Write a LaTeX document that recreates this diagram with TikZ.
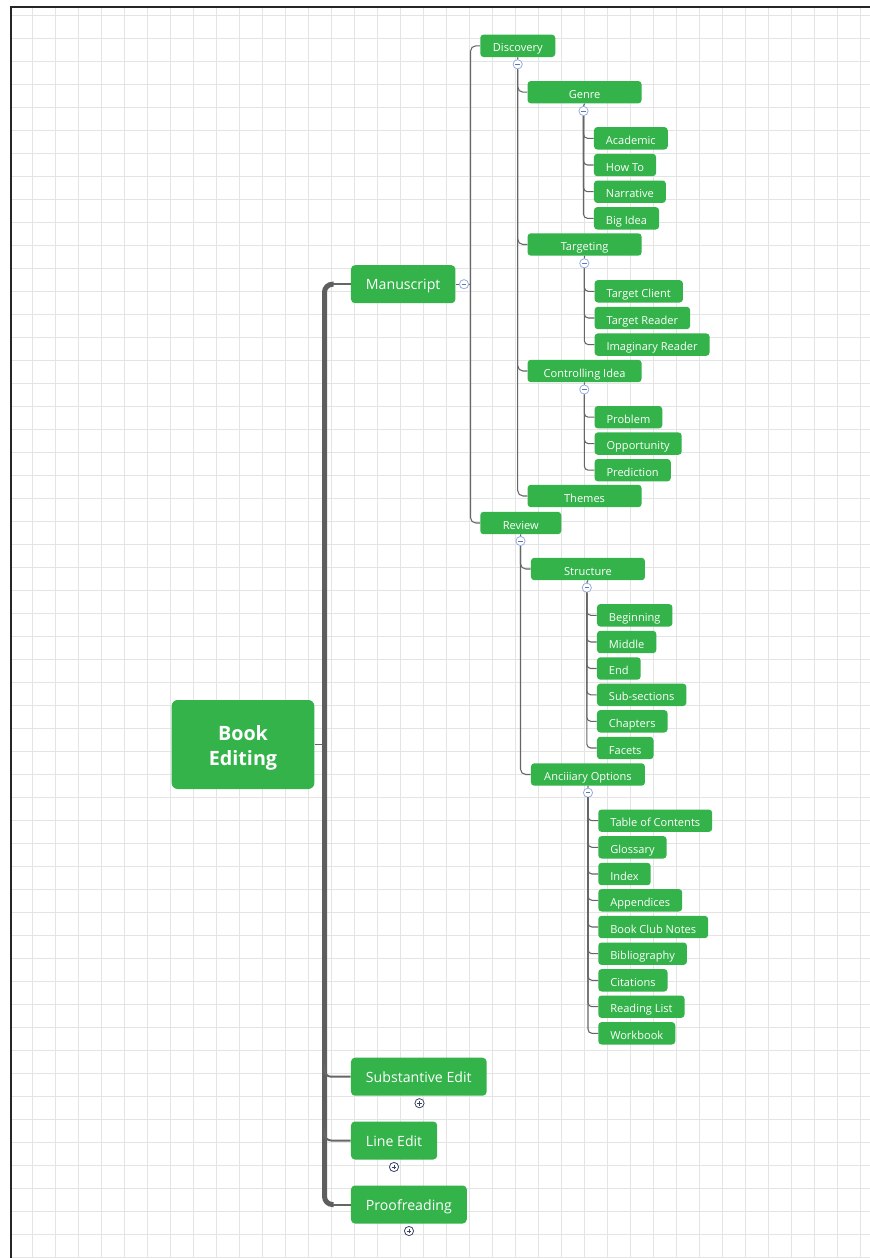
\documentclass[tikz,border=0pt]{standalone}
\usepackage{fontspec}
\setmainfont{Open Sans}
\usetikzlibrary{calc}

\definecolor{mapgreen}{RGB}{51,179,74}
\definecolor{gridgray}{RGB}{228,228,228}
\definecolor{linegray}{RGB}{102,102,102}
\definecolor{trunkgray}{RGB}{94,94,94}
\definecolor{iconblue}{RGB}{150,172,228}
\definecolor{minusblue}{RGB}{98,118,178}
\definecolor{plusdark}{RGB}{58,68,98}

\tikzset{
  topic/.style={fill=mapgreen, text=white, rounded corners=2.5pt, inner ysep=0pt},
  root/.style={topic, rounded corners=4.5pt, align=center,
    font=\fontsize{14.8}{18.75}\selectfont\bfseries,
    minimum width=107pt, minimum height=66.75pt},
  main/.style={topic, anchor=west, rounded corners=3pt,
    font=\fontsize{10.6}{12}\selectfont, inner xsep=11.25pt, minimum height=28.5pt,
    text height=0.88em, text depth=0.05em},
  sub/.style={topic, anchor=west, font=\fontsize{8.3}{10}\selectfont,
    inner xsep=9pt, minimum height=16.8pt, minimum width=56.25pt,
    text height=0.95em, text depth=0.05em},
  mid/.style={sub, minimum width=85.5pt},
  leaf/.style={sub, minimum width=0pt},
  conn/.style={draw=linegray, line width=0.8pt},
  branch/.style={draw=linegray, line width=1.5pt},
  trunk/.style={draw=trunkgray, line width=3.75pt},
  gridline/.style={draw=gridgray, line width=0.75pt},
  minus/.style={circle, draw=iconblue, fill=white, line width=0.6pt,
    minimum size=6.9pt, inner sep=0pt,
    path picture={\draw[minusblue, line width=0.7pt]
      ([xshift=-1.7pt]path picture bounding box.center) --
      ([xshift=1.7pt]path picture bounding box.center);}},
  plus/.style={circle, draw=plusdark, fill=white, line width=0.6pt,
    minimum size=6.9pt, inner sep=0pt,
    path picture={\draw[plusdark, line width=0.7pt]
      ([xshift=-1.8pt]path picture bounding box.center) --
      ([xshift=1.8pt]path picture bounding box.center)
      ([yshift=-1.8pt]path picture bounding box.center) --
      ([yshift=1.8pt]path picture bounding box.center);}}
}

\begin{document}
\begin{tikzpicture}[x=0.75pt, y=-0.75pt]
  \useasboundingbox (0,0) rectangle (870,1258);
  \fill[white] (0,0) rectangle (870,1258);

  % grid paper
  \foreach \i in {0,...,36}
    \draw[gridline] ({32.7+23*\i},7) -- ({32.7+23*\i},1258);
  \foreach \j in {0,...,54}
    \draw[gridline] (11,{15.3+23*\j}) -- (870,{15.3+23*\j});
  \draw[black!85, line width=1.3pt] (10.9,1258) -- (10.9,6.8) -- (870,6.8);

  % topics
  \node[root] (root) at (243,744.5) {\rule{0pt}{16.5pt}Book\\Editing};
  \node[main] (ms) at (350.7,284.2) {Manuscript};
  \node[main] (se) at (350.7,1076.7) {Substantive Edit};
  \node[main] (le) at (350.7,1140.5) {Line Edit};
  \node[main] (pr) at (350.7,1204.5) {Proofreading};

  \node[sub] (disc) at (480,45.8) {Discovery};
  \node[sub, minimum width=60.75pt] (rev) at (480,523) {Review};

  \node[mid] (genre) at (527.3,92.2) {Genre};
  \node[mid] (targ) at (527.3,244.5) {Targeting};
  \node[mid] (ctrl) at (527.3,371) {Controlling Idea};
  \node[mid] (themes) at (527.3,496) {Themes};
  \node[mid] (struct) at (530.7,569) {Structure};
  \node[mid] (anc) at (530.7,774.5) {Anciiiary Options};

  \foreach \name/\txt/\y in {acad/Academic/138.3, howto/How To/165,
      narr/Narrative/191.7, bigidea/Big Idea/218.3}
    \node[leaf] (\name) at (593.7,\y) {\txt};
  \foreach \name/\txt/\y in {tclient/Target Client/291.3,
      treader/Target Reader/318, ireader/Imaginary Reader/344.6}
    \node[leaf] (\name) at (594.3,\y) {\txt};
  \foreach \name/\txt/\y in {prob/Problem/417.2, opp/Opportunity/443.6,
      pred/Prediction/470.2}
    \node[leaf] (\name) at (594.3,\y) {\txt};
  \foreach \name/\txt/\y in {beg/Beginning/615.3, mid/Middle/642,
      end/End/668.5, subsec/Sub-sections/694.8, chap/Chapters/721.3,
      facets/Facets/748}
    \node[leaf] (\name) at (596.7,\y) {\txt};
  \foreach \name/\txt/\y in {toc/Table of Contents/820.7,
      gloss/Glossary/847.3, index/Index/874, app/Appendices/900.3,
      bcn/Book Club Notes/927, bib/Bibliography/953.7,
      cit/Citations/980.3, rlist/Reading List/1006.7, work/Workbook/1033.3}
    \node[leaf] (\name) at (598,\y) {\txt};

  % fold icons
  \node[minus] (msI) at (464,284.2) {};
  \node[minus] (discI) at (517.7,64.3) {};
  \node[minus] (revI) at (520.5,541) {};
  \node[minus] (genreI) at (583.5,111) {};
  \node[minus] (targI) at (584.3,263.3) {};
  \node[minus] (ctrlI) at (584.3,389.5) {};
  \node[minus] (structI) at (586.8,587.7) {};
  \node[minus] (ancI) at (588,792.7) {};
  \node[plus] (seI) at (419.5,1103.2) {};
  \node[plus] (leI) at (394,1167) {};
  \node[plus] (prI) at (409,1231) {};

  % trunk and main branches
  \coordinate (tk) at (324.5,744.5);
  \draw[conn, line width=0.75pt] (root.east) -- (root.east -| tk);
  \draw[trunk, rounded corners=6pt] ($(ms.west -| tk)+(9,0)$) -| (tk)
    |- ($(pr.west -| tk)+(9,0)$);
  \draw[branch] ($(ms.west -| tk)+(8,0)$) -- (ms.west);
  \draw[branch] ($(pr.west -| tk)+(8,0)$) -- (pr.west);
  \draw[branch, rounded corners=5pt] ($(se.west -| tk)+(0,-12)$) |- (se.west);
  \draw[branch, rounded corners=5pt] ($(le.west -| tk)+(0,-12)$) |- (le.west);

  % Manuscript
  \coordinate (msfork) at (470.5,284.2);
  \draw[conn] (ms.east) -- (msI.west);
  \draw[conn] (msI.east) -- (msfork);
  \draw[conn, rounded corners=4pt] (msfork) |- (disc.west);
  \draw[conn, rounded corners=4pt] (msfork) |- (rev.west);

  % Discovery and Review
  \draw[conn] (disc.south) -- (discI.north);
  \foreach \c in {genre,targ,ctrl,themes}
    \draw[conn, rounded corners=4pt] (discI.south) |- (\c.west);
  \draw[conn] (rev.south) -- (revI.north);
  \foreach \c in {struct,anc}
    \draw[conn, rounded corners=4pt] (revI.south) |- (\c.west);

  % leaves
  \draw[conn] (genre.south) -- (genreI.north);
  \foreach \c in {acad,howto,narr,bigidea}
    \draw[conn, rounded corners=3pt] (genreI.south) |- (\c.west);
  \draw[conn] (targ.south) -- (targI.north);
  \foreach \c in {tclient,treader,ireader}
    \draw[conn, rounded corners=3pt] (targI.south) |- (\c.west);
  \draw[conn] (ctrl.south) -- (ctrlI.north);
  \foreach \c in {prob,opp,pred}
    \draw[conn, rounded corners=3pt] (ctrlI.south) |- (\c.west);
  \draw[conn] (struct.south) -- (structI.north);
  \foreach \c in {beg,mid,end,subsec,chap,facets}
    \draw[conn, rounded corners=3pt] (structI.south) |- (\c.west);
  \draw[conn] (anc.south) -- (ancI.north);
  \foreach \c in {toc,gloss,index,app,bcn,bib,cit,rlist,work}
    \draw[conn, rounded corners=3pt] (ancI.south) |- (\c.west);
\end{tikzpicture}
\end{document}
